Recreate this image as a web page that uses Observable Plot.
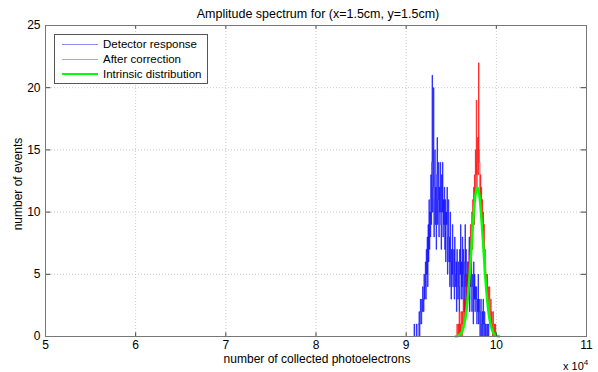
<!DOCTYPE html>
<html><head><meta charset="utf-8">
<script src="https://cdn.jsdelivr.net/npm/d3@7"></script>
<script src="https://cdn.jsdelivr.net/npm/@observablehq/plot@0.6"></script>
<style>
body{margin:0;background:#fff;font-family:"Liberation Sans",Arial,sans-serif;}
#wrap{position:relative;width:598px;height:372px;}
.t{position:absolute;font-size:12px;color:#000;white-space:nowrap;line-height:1;}
#legend{position:absolute;left:54px;top:34px;width:152px;height:48px;border:1px solid #555;background:#fff;}
.row{position:absolute;left:0;height:14px;width:150px;}
.sw{position:absolute;left:7px;width:36px;}
.lab{position:absolute;left:48px;top:0;font-size:11.5px;line-height:14px;white-space:nowrap;}
</style></head><body><div id="wrap"></div>
<script>
const xTicks = [5, 6, 7, 8, 9, 10, 11];
const yTicks = [0, 5, 10, 15, 20, 25];
const binWidth = 0.005;
const blueStart = 9.08;
const blueCounts = [
  0,0,1,0,0,0,0,1,0,0,
  0,1,1,2,0,1,3,2,1,3,
  2,4,3,2,5,3,4,6,3,7,
  5,8,4,9,6,11,7,10,8,13,
  9,14,21,10,12,20,8,11,15,9,
  12,7,13,16,9,11,14,8,12,10,
  14,9,7,13,10,14,8,11,9,12,
  7,11,6,10,9,12,5,8,11,6,
  8,4,10,6,3,7,5,9,4,6,
  7,3,8,5,4,6,2,7,5,3,
  6,4,2,7,5,9,3,6,4,8,
  3,7,5,2,6,9,4,7,2,5,
  4,6,3,5,8,2,6,4,7,3,
  2,5,4,1,6,3,5,2,4,3,
  4,1,3,2,5,1,3,2,0,2,
  3,0,1,2,0,3,1,0,2,1,
  0,1,0,0,1,0,0,1,0
];
const redStart = 9.55;
const redCounts = [
  0,0,0,1,0,0,1,0,2,0,
  1,0,2,1,0,2,1,3,2,1,
  3,2,4,2,3,5,4,6,3,5,
  7,4,6,9,5,8,10,7,11,9,
  12,9,13,11,15,13,19,12,14,16,
  13,22,15,14,11,13,10,12,9,11,
  8,10,7,9,5,7,6,4,5,3,
  5,3,4,2,3,4,1,2,3,1,
  2,1,0,2,1,0,1,0,1,0,
  0,0,0
];
const greenX = [9.55,9.57,9.59,9.61,9.63,9.65,9.67,9.69,9.71,9.73,9.75,9.77,9.79,9.81,9.83,9.85,9.87,9.89,9.91,9.93,9.95,9.97,9.99,10.01,10.03];
const greenY = [0.01,0.04,0.11,0.26,0.58,1.18,2.19,3.67,5.63,7.84,9.93,11.45,12,11.45,9.93,7.84,5.63,3.67,2.19,1.18,0.58,0.26,0.11,0.04,0.01];
const seriesNames = ["Detector response", "After correction", "Intrinsic distribution"];
const seriesColors = ["#0000ff", "#ff0000", "#00ff00"];
const titleText = "Amplitude spectrum for (x=1.5cm, y=1.5cm)";
const xLabel = "number of collected photoelectrons";
const yLabel = "number of events";

const blue = blueCounts.map((c, i) => ({x: +(blueStart + i * binWidth).toFixed(4), y: c}));
const red = redCounts.map((c, i) => ({x: +(redStart + i * binWidth).toFixed(4), y: c}));
const green = greenX.map((x, i) => ({x, y: greenY[i]}));

const chart = Plot.plot({
  width: 598, height: 372,
  marginLeft: 45, marginRight: 12, marginTop: 25, marginBottom: 36,
  style: {fontFamily: '"Liberation Sans", Arial, sans-serif', fontSize: "12px", color: "#000", background: "#fff"},
  x: {domain: [5, 11], ticks: xTicks, tickSize: 0, tickPadding: 4, label: null, tickFormat: d => String(d)},
  y: {domain: [0, 25], ticks: yTicks, tickSize: 0, tickPadding: 5, label: null},
  marks: [
    Plot.ruleX(xTicks.slice(1, -1), {x: d => d, stroke: "#c8c8c8", strokeDasharray: "1,2"}),
    Plot.ruleY(yTicks.slice(1, -1), {y: d => d, stroke: "#c8c8c8", strokeDasharray: "1,2"}),
    Plot.line(blue, {x: "x", y: "y", curve: "step", stroke: seriesColors[0], strokeWidth: 0.7}),
    Plot.line(red, {x: "x", y: "y", curve: "step", stroke: seriesColors[1], strokeWidth: 0.7}),
    Plot.line(green, {x: "x", y: "y", curve: "catmull-rom", stroke: seriesColors[2], strokeWidth: 2.5}),
    Plot.ruleX(xTicks, {x: d => d, y1: 0, y2: 0.3, stroke: "#444"}),
    Plot.ruleX(xTicks, {x: d => d, y1: 24.7, y2: 25, stroke: "#444"}),
    Plot.ruleY(yTicks, {y: d => d, x1: 5, x2: 5.06, stroke: "#444"}),
    Plot.ruleY(yTicks, {y: d => d, x1: 10.94, x2: 11, stroke: "#444"}),
    Plot.frame({stroke: "#777"})
  ]
});
const wrap = document.getElementById("wrap");
wrap.appendChild(chart);

function addText(txt, css) {
  const d = document.createElement("div");
  d.className = "t";
  d.textContent = txt;
  Object.assign(d.style, css);
  wrap.appendChild(d);
  return d;
}
addText(titleText, {left: "318px", top: "8px", fontSize: "12.5px", transform: "translateX(-50%)"});
addText(xLabel, {left: "317px", top: "353px", transform: "translateX(-50%)"});
addText(yLabel, {left: "18px", top: "184px", transform: "translate(-50%,-50%) rotate(-90deg)"});
const xp = addText("x 10", {left: "563px", top: "359px", fontSize: "11px"});
const sup = document.createElement("sup");
sup.textContent = "4";
sup.style.fontSize = "8px";
sup.style.verticalAlign = "5px";
xp.appendChild(sup);

const legend = document.createElement("div");
legend.id = "legend";
seriesNames.forEach((name, i) => {
  const row = document.createElement("div");
  row.className = "row";
  row.style.top = (2 + i * 15) + "px";
  const sw = document.createElement("div");
  sw.className = "sw";
  const w = i === 2 ? 2.5 : 1;
  sw.style.height = w + "px";
  sw.style.top = (7 - w / 2) + "px";
  sw.style.background = seriesColors[i];
  if (i < 2) sw.style.opacity = 0.45;
  const lab = document.createElement("div");
  lab.className = "lab";
  lab.textContent = name;
  row.appendChild(sw);
  row.appendChild(lab);
  legend.appendChild(row);
});
wrap.appendChild(legend);
</script>
</body></html>
